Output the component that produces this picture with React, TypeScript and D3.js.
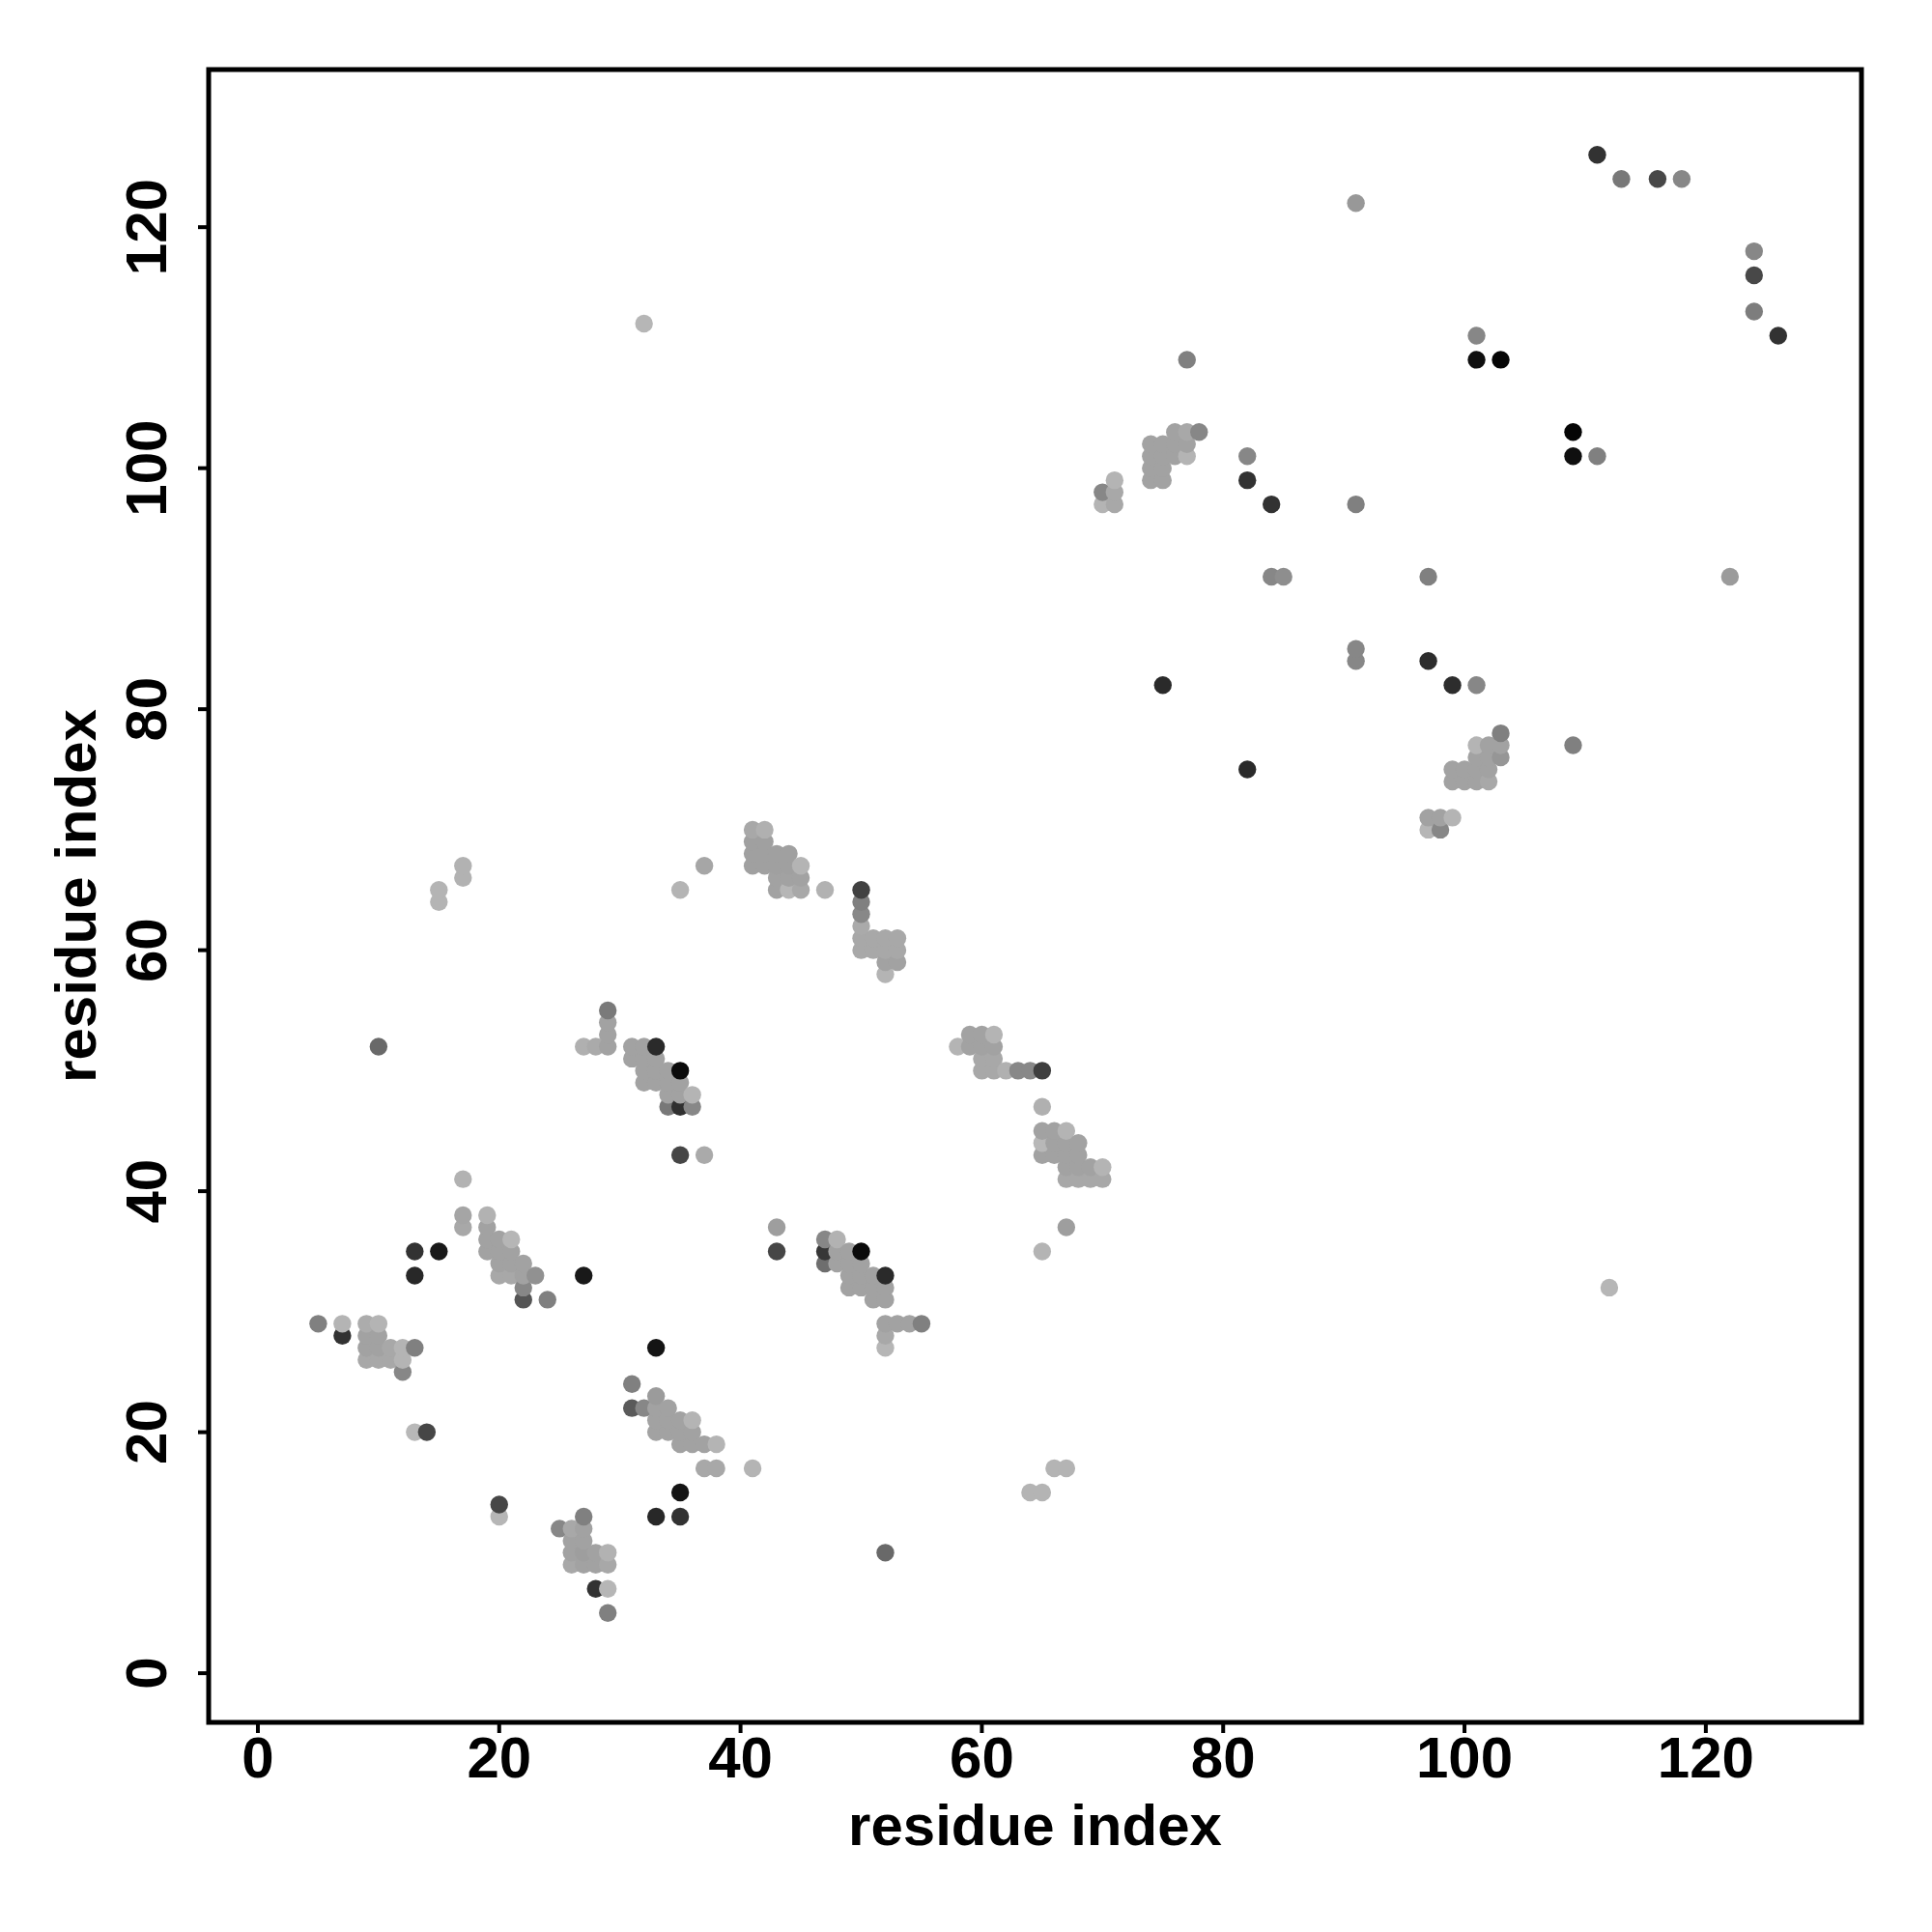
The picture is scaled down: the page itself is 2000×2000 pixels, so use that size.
import React from "react";
import * as d3 from "d3";

// [residue i, residue j, gray level 0-255]
type Pt = [number, number, number];
const C = 162; // typical cluster gray

const lowerLeft: Pt[] = [
  [5, 29, 128], [7, 29, 180], [7, 28, 50], [9, 29, 172], [10, 29, 180],
  [9, 28, C], [9, 27, C], [9, 26, 168], [10, 28, C], [10, 27, C], [10, 26, 168],
  [11, 27, 168], [11, 26, 168], [12, 27, 180], [12, 26, 180], [12, 25, 135], [13, 27, 128],
  [13, 20, 184], [14, 20, 70], [13, 35, 50], [15, 35, 25], [13, 33, 40],
  [17, 41, 178], [17, 38, 165], [17, 37, 168], [19, 38, 178], [19, 37, C], [19, 36, C], [19, 35, C],
  [20, 36, C], [20, 35, C], [20, 34, C], [20, 33, 168], [21, 36, 182], [21, 35, C], [21, 34, C],
  [21, 33, 168], [22, 34, C], [22, 33, C], [22, 32, 135], [22, 31, 85], [23, 33, 145], [24, 31, 128],
  [27, 33, 25], [20, 14, 70], [20, 13, 182],
  [25, 12, 135], [27, 13, 128], [26, 12, 168], [27, 12, C], [26, 11, C], [27, 11, C], [26, 10, C],
  [27, 10, 158], [28, 10, C], [29, 10, 178], [26, 9, 168], [27, 9, C], [28, 9, C], [29, 9, 168],
  [28, 7, 50], [29, 7, 182], [29, 5, 128],
];

const lowerMid: Pt[] = [
  [31, 24, 128], [31, 22, 90], [32, 22, 135], [33, 23, 155], [33, 22, C], [33, 21, C], [33, 20, C],
  [34, 22, C], [34, 21, C], [34, 20, C], [35, 21, C], [35, 20, C], [35, 19, C], [36, 21, 180],
  [36, 20, C], [36, 19, C], [37, 19, C], [38, 19, 180], [37, 17, 168], [38, 17, 168], [41, 17, 180],
  [35, 15, 20], [33, 13, 40], [35, 13, 50], [33, 27, 20],
  [35, 43, 70], [37, 43, 170], [43, 37, 158], [43, 35, 70],
  [47, 36, 135], [48, 36, 178], [47, 35, 55], [47, 34, 110], [48, 35, C], [48, 34, C], [49, 35, C],
  [49, 34, C], [50, 35, 10], [50, 34, C], [49, 33, C], [50, 33, C], [51, 33, C], [52, 33, 42],
  [49, 32, C], [50, 32, C], [51, 32, C], [52, 32, C], [51, 31, C], [52, 31, C], [52, 29, C],
  [53, 29, C], [54, 29, C], [55, 29, 128], [52, 28, 168], [52, 27, 182], [52, 10, 105],
  [67, 37, 158], [65, 35, 180], [66, 17, 180], [67, 17, 180], [64, 15, 180], [65, 15, 180],
];

const middle: Pt[] = [
  [10, 52, 105], [15, 65, 180], [15, 64, 180], [17, 67, 178], [17, 66, 178],
  [27, 52, 176], [28, 52, 170], [29, 52, C], [29, 53, C], [29, 54, C], [29, 55, 122],
  [31, 52, C], [32, 52, C], [33, 52, 42], [31, 51, C], [32, 51, C], [33, 51, C], [32, 50, C],
  [33, 50, C], [34, 50, C], [35, 50, 10], [32, 49, C], [33, 49, C], [34, 49, C], [35, 49, C],
  [34, 48, C], [35, 48, C], [36, 48, 180], [34, 47, 120], [35, 47, 48], [36, 47, 135],
  [35, 65, 180], [37, 67, 166],
  [41, 70, 168], [42, 70, 176], [41, 69, 160], [42, 69, 160], [41, 68, 160], [42, 68, 160],
  [43, 68, 160], [44, 68, 160], [41, 67, 160], [42, 67, 160], [43, 67, 160], [44, 67, 160],
  [45, 67, 180], [43, 66, C], [44, 66, C], [45, 66, C], [43, 65, C], [44, 65, 182], [45, 65, 168],
  [47, 65, 178],
  [50, 65, 65], [50, 64, 128], [50, 63, 136], [50, 62, 170], [50, 61, 168], [50, 60, 168],
  [51, 61, 168], [51, 60, 168], [52, 61, 168], [52, 60, 168], [53, 61, 168], [53, 60, 168],
  [52, 59, C], [53, 59, C], [52, 58, 180],
];

const middleRight: Pt[] = [
  [58, 52, 180], [59, 53, C], [60, 53, C], [61, 53, 180], [59, 52, C], [60, 52, C], [61, 52, C],
  [60, 51, 168], [61, 51, 168], [60, 50, 168], [61, 50, 168], [62, 50, 176], [63, 50, 136],
  [64, 50, 136], [65, 50, 62],
  [65, 47, 176], [65, 45, C], [66, 45, C], [67, 45, 180], [65, 44, 184], [66, 44, C], [67, 44, C],
  [68, 44, C], [65, 43, C], [66, 43, C], [67, 43, C], [68, 43, C], [67, 42, C], [68, 42, C],
  [69, 42, C], [70, 42, 180], [67, 41, 168], [68, 41, 168], [69, 41, 168], [70, 41, 168],
];

const upperRight: Pt[] = [
  [75, 82, 42], [82, 75, 42], [91, 85, 135], [91, 84, 135], [97, 84, 45], [99, 82, 45],
  [101, 82, 135], [103, 78, 128], [109, 77, 128],
  [101, 77, 180], [102, 77, C], [103, 77, C], [101, 76, C], [102, 76, C], [103, 76, 150],
  [99, 75, C], [100, 75, C], [101, 75, C], [102, 75, C], [99, 74, C], [100, 74, C], [101, 74, C],
  [102, 74, 168], [97, 71, C], [98, 71, C], [99, 71, 180], [97, 70, 182], [98, 70, 135],
  [111, 126, 50], [113, 124, 120], [116, 124, 72], [118, 124, 135], [91, 122, 152],
  [124, 118, 135], [124, 116, 72], [124, 113, 125], [126, 111, 50],
  [101, 111, 135], [101, 109, 15], [103, 109, 5], [77, 109, 128], [109, 103, 5], [109, 101, 15],
  [111, 101, 128], [82, 101, 135], [82, 99, 50], [84, 97, 50], [91, 97, 128], [84, 91, 135],
  [85, 91, 142], [97, 91, 128], [122, 91, 155],
  [70, 98, 135], [71, 99, 180], [71, 98, 168], [70, 97, 180], [71, 97, 168],
  [74, 102, C], [74, 101, C], [74, 100, C], [74, 99, C], [75, 102, C], [75, 101, C], [75, 100, C],
  [75, 99, C], [76, 103, C], [76, 102, C], [76, 101, C], [77, 103, 168], [77, 102, C],
  [77, 101, 180], [78, 103, 135],
  [112, 32, 182], [32, 112, 182],
];

const xTicks = [0, 20, 40, 60, 80, 100, 120];
const yTicks = [0, 20, 40, 60, 80, 100, 120];
const xLabel = "residue index";
const yLabel = "residue index";

const FONT = "'Liberation Sans', Arial, Helvetica, sans-serif";

export default function App() {
  const left = 216, right = 1927, top = 72, bottom = 1783;
  const x = d3.scaleLinear().domain([-4.08, 132.9]).range([left, right]);
  const y = d3.scaleLinear().domain([-4.08, 133.08]).range([bottom, top]);

  const all = [...lowerLeft, ...lowerMid, ...middle, ...middleRight, ...upperRight]
    .slice()
    .sort((a, b) => (a[0] - b[0]) || (a[1] - b[1]));

  return (
    <svg width={2000} height={2000} style={{ position: "absolute", left: 0, top: 0, background: "#fff" }}>
      <rect x={0} y={0} width={2000} height={2000} fill="#fff" />
      {all.map((p, i) => (
        <circle key={i} cx={x(p[0])} cy={y(p[1])} r={9.2} fill={d3.rgb(p[2], p[2], p[2]).formatHex()} />
      ))}
      <rect x={left} y={top} width={right - left} height={bottom - top} fill="none" stroke="#000" strokeWidth={5} />
      {xTicks.map((t) => (
        <g key={"x" + t}>
          <line x1={x(t)} x2={x(t)} y1={bottom} y2={bottom + 11} stroke="#000" strokeWidth={4} />
          <text x={x(t)} y={1840} textAnchor="middle" fontFamily={FONT} fontWeight="bold" fontSize={60}>{t}</text>
        </g>
      ))}
      {yTicks.map((t) => (
        <g key={"y" + t}>
          <line x1={left} x2={left - 11} y1={y(t)} y2={y(t)} stroke="#000" strokeWidth={4} />
          <text transform={`translate(172,${y(t)}) rotate(-90)`} textAnchor="middle" fontFamily={FONT} fontWeight="bold" fontSize={60}>{t}</text>
        </g>
      ))}
      <text x={(left + right) / 2} y={1910} textAnchor="middle" fontFamily={FONT} fontWeight="bold" fontSize={60}>{xLabel}</text>
      <text transform={`translate(99,${(top + bottom) / 2}) rotate(-90)`} textAnchor="middle" fontFamily={FONT} fontWeight="bold" fontSize={60}>{yLabel}</text>
    </svg>
  );
}
